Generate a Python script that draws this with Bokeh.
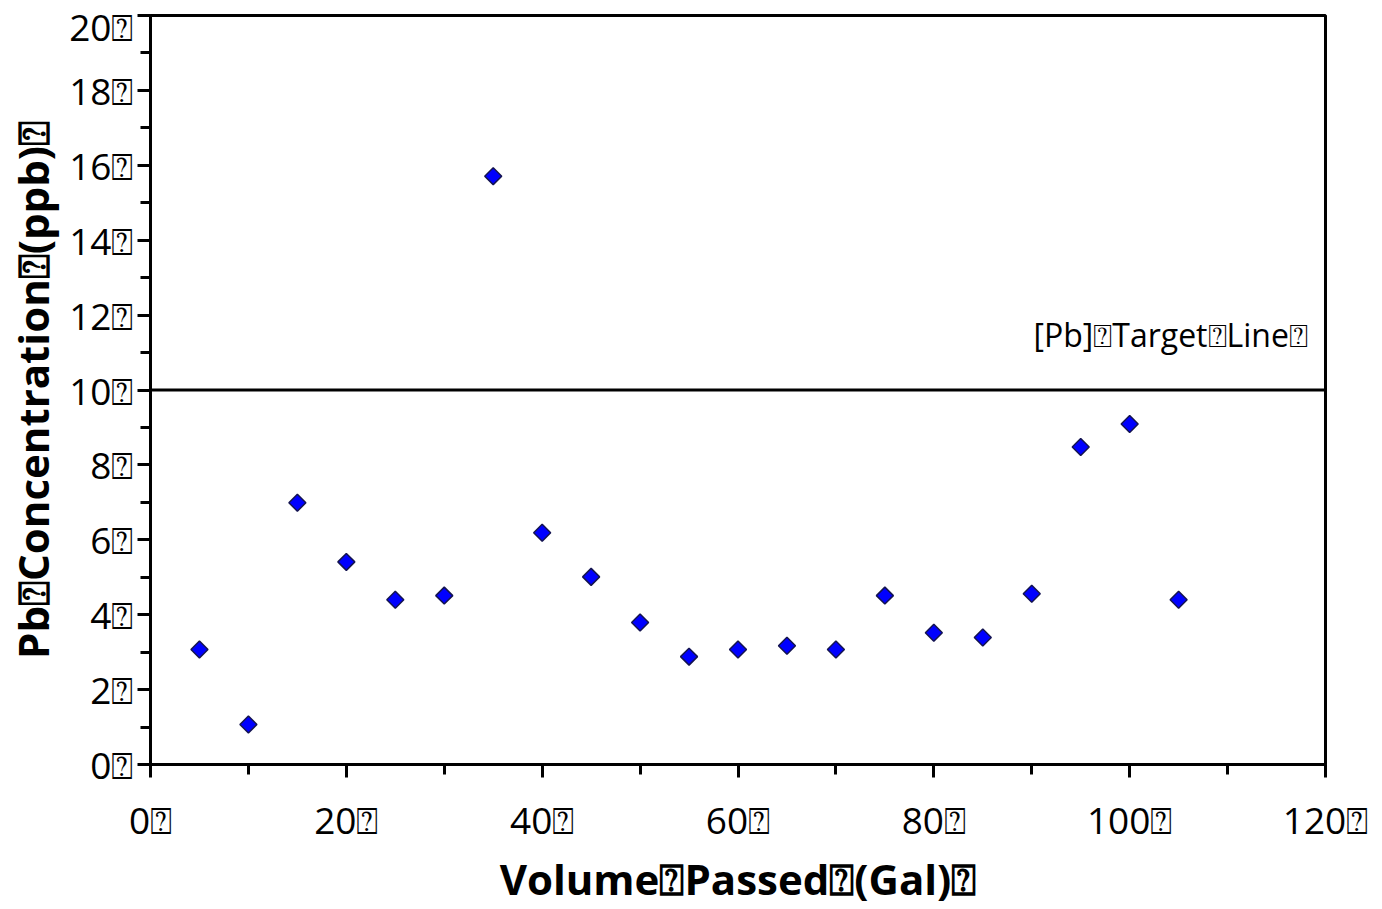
import math
from bokeh.plotting import figure
from bokeh.models import Span, Label, SingleIntervalTicker
from bokeh.embed import file_html
from bokeh.resources import INLINE

MARK = "\u2370"
volume = [5, 10, 15, 20, 25, 30, 35, 40, 45, 50, 55, 60, 65, 70, 75, 80, 85, 90, 95, 100, 105]
pb = [3.07, 1.07, 6.99, 5.41, 4.40, 4.51, 15.71, 6.19, 5.01, 3.79, 2.88, 3.07, 3.17, 3.07,
      4.51, 3.52, 3.39, 4.56, 8.48, 9.09, 4.40]
x_ticks = [0, 20, 40, 60, 80, 100, 120]
y_ticks = [0, 2, 4, 6, 8, 10, 12, 14, 16, 18, 20]
target = 10
target_label = "[Pb]" + MARK + "Target" + MARK + "Line" + MARK
x_title = "Volume" + MARK + "Passed" + MARK + "(Gal)" + MARK
y_title = "Pb" + MARK + "Concentration" + MARK + "(ppb)" + MARK

FONT = "Open Sans"

p = figure(width=1382, height=909, x_range=(0, 120), y_range=(0, 20),
           output_backend="svg", toolbar_location=None,
           min_border_left=150, min_border_right=57, min_border_top=15, min_border_bottom=144)
p.background_fill_color = "white"
p.border_fill_color = "white"
p.outline_line_color = "black"
p.outline_line_width = 3
p.grid.visible = False

p.xaxis.ticker = SingleIntervalTicker(interval=20, num_minor_ticks=2)
p.yaxis.ticker = SingleIntervalTicker(interval=2, num_minor_ticks=2)
p.xaxis.major_label_overrides = {t: f"{t}{MARK}" for t in x_ticks}
p.yaxis.major_label_overrides = {t: f"{t}{MARK}" for t in y_ticks}

for ax in (p.xaxis[0], p.yaxis[0]):
    ax.axis_line_width = 3
    ax.axis_line_color = "black"
    ax.major_tick_line_width = 3
    ax.minor_tick_line_width = 3
    ax.major_tick_out = 13
    ax.major_tick_in = 0
    ax.minor_tick_out = 10
    ax.minor_tick_in = 0
    ax.major_label_text_font = FONT
    ax.major_label_text_font_size = "37px"
    ax.major_label_text_color = "black"
    ax.axis_label_text_font = FONT
    ax.axis_label_text_font_style = "bold"
    ax.axis_label_text_font_size = "42px"
    ax.axis_label_text_color = "black"

p.xaxis.axis_label = x_title
p.yaxis.axis_label = y_title
p.xaxis.major_label_standoff = 16
p.xaxis.axis_label_standoff = 2
p.yaxis.major_label_standoff = 4
p.yaxis.axis_label_standoff = 5

p.add_layout(Span(location=target, dimension="width", line_color="black", line_width=3))
p.add_layout(Label(x=118.2, y=target + 0.9, text=target_label, text_align="right",
                   text_font=FONT, text_font_size="32px", text_color="black"))

p.scatter(volume, pb, marker="square", angle=math.pi / 4, size=12,
          fill_color="#0000ff", line_color="#141450", line_width=1.5)

open("out.html", "w").write(file_html(p, INLINE))
